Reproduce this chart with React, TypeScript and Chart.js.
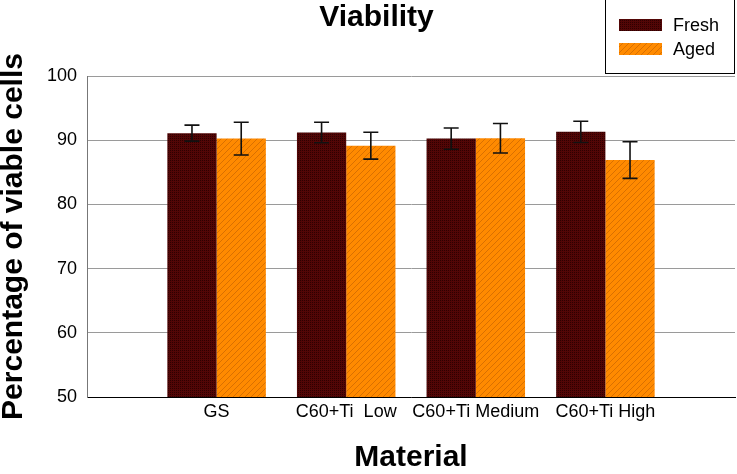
import React, { useEffect, useRef } from "react";
import { Chart, registerables } from "chart.js";

Chart.register(...registerables);

const categories = ["GS", "C60+Ti  Low", "C60+Ti Medium", "C60+Ti High"];
const seriesNames = ["Fresh", "Aged"];
const freshValues = [91.1, 91.2, 90.25, 91.3];
const freshErrors = [1.25, 1.6, 1.65, 1.65];
const agedValues = [90.25, 89.15, 90.3, 86.9];
const agedErrors = [2.55, 2.1, 2.3, 2.85];
const yTicks = [50, 60, 70, 80, 90, 100];

const FONT = "'Liberation Sans', Arial, Helvetica, sans-serif";

function makeFreshPattern(): CanvasPattern | string {
  const c = document.createElement("canvas");
  c.width = 4;
  c.height = 4;
  const ctx = c.getContext("2d");
  if (!ctx) return "#4a0404";
  ctx.fillStyle = "#520606";
  ctx.fillRect(0, 0, 4, 4);
  ctx.fillStyle = "#2e0000";
  ctx.fillRect(0, 0, 1, 1);
  ctx.fillRect(2, 2, 1, 1);
  ctx.fillRect(2, 0, 1, 1);
  ctx.fillRect(0, 2, 1, 1);
  return ctx.createPattern(c, "repeat") || "#4a0404";
}

function makeAgedPattern(): CanvasPattern | string {
  const c = document.createElement("canvas");
  c.width = 6;
  c.height = 6;
  const ctx = c.getContext("2d");
  if (!ctx) return "#ff8a00";
  ctx.fillStyle = "#ff8a00";
  ctx.fillRect(0, 0, 6, 6);
  ctx.strokeStyle = "#d97000";
  ctx.lineWidth = 1;
  ctx.beginPath();
  ctx.moveTo(-1, 7);
  ctx.lineTo(7, -1);
  ctx.moveTo(-1, 1);
  ctx.lineTo(1, -1);
  ctx.moveTo(5, 7);
  ctx.lineTo(7, 5);
  ctx.stroke();
  return ctx.createPattern(c, "repeat") || "#ff8a00";
}

const errorBarPlugin = {
  id: "errorBars",
  afterDatasetsDraw(chart: any) {
    const ctx = chart.ctx;
    const yScale = chart.scales.y;
    ctx.save();
    ctx.strokeStyle = "#111";
    ctx.lineWidth = 1.6;
    chart.data.datasets.forEach((ds: any, di: number) => {
      const meta = chart.getDatasetMeta(di);
      const errs: number[] = ds.errors || [];
      meta.data.forEach((bar: any, i: number) => {
        const v = ds.data[i].y;
        const e = errs[i];
        if (e == null) return;
        const x = bar.x;
        const yTop = yScale.getPixelForValue(v + e);
        const yBot = yScale.getPixelForValue(v - e);
        const hw = 7.5;
        ctx.beginPath();
        ctx.moveTo(x, yTop);
        ctx.lineTo(x, yBot);
        ctx.moveTo(x - hw, yTop);
        ctx.lineTo(x + hw, yTop);
        ctx.moveTo(x - hw, yBot);
        ctx.lineTo(x + hw, yBot);
        ctx.stroke();
      });
    });
    ctx.restore();
  },
};

const boxLegendPlugin = {
  id: "boxLegend",
  afterDraw(chart: any) {
    const ctx = chart.ctx;
    const area = chart.chartArea;
    const boxRight = area.right;
    const boxLeft = boxRight - 130;
    const boxTop = -1;
    const boxBottom = area.top - 3;
    ctx.save();
    ctx.fillStyle = "#fff";
    ctx.fillRect(boxLeft, boxTop, boxRight - boxLeft, boxBottom - boxTop);
    ctx.strokeStyle = "#000";
    ctx.lineWidth = 1;
    ctx.strokeRect(boxLeft + 0.5, boxTop + 0.5, boxRight - boxLeft - 1, boxBottom - boxTop);
    ctx.font = `18px ${FONT}`;
    ctx.textBaseline = "middle";
    ctx.textAlign = "left";
    chart.data.datasets.forEach((ds: any, i: number) => {
      const cy = 25 + i * 24;
      ctx.fillStyle = ds.backgroundColor;
      ctx.fillRect(boxLeft + 14, cy - 6, 43, 12);
      ctx.fillStyle = "#000";
      ctx.fillText(ds.label, boxLeft + 68, cy + 1);
    });
    ctx.restore();
  },
};

export default function App() {
  const canvasRef = useRef<HTMLCanvasElement | null>(null);

  useEffect(() => {
    if (!canvasRef.current) return;
    const freshPattern = makeFreshPattern();
    const agedPattern = makeAgedPattern();
    const chart = new Chart(canvasRef.current, {
      type: "bar",
      data: {
        datasets: [
          {
            label: seriesNames[0],
            data: freshValues.map((v, i) => ({ x: i + 1, y: v })),
            errors: freshErrors,
            backgroundColor: freshPattern as any,
            borderWidth: 0,
            categoryPercentage: 0.76,
            barPercentage: 1,
          } as any,
          {
            label: seriesNames[1],
            data: agedValues.map((v, i) => ({ x: i + 1, y: v })),
            errors: agedErrors,
            backgroundColor: agedPattern as any,
            borderWidth: 0,
            categoryPercentage: 0.76,
            barPercentage: 1,
          } as any,
        ],
      },
      options: {
        animation: false,
        responsive: false,
        maintainAspectRatio: false,
        layout: { padding: { left: 18, right: 2, top: 0, bottom: 0 } },
        plugins: {
          legend: { display: false },
          tooltip: { enabled: false },
          title: {
            display: true,
            text: "Viability",
            color: "#000",
            font: { family: FONT, size: 30, weight: "bold", lineHeight: 1 },
            padding: { top: 3, bottom: 43 },
          },
        },
        scales: {
          x: {
            type: "linear",
            offset: false,
            min: 0,
            max: 5,
            afterBuildTicks: (scale: any) => {
              scale.ticks = categories.map((_, i) => ({ value: i + 1 }));
            },
            afterFit: (scale: any) => {
              scale.height = 77;
            },
            ticks: {
              autoSkip: false,
              maxRotation: 0,
              padding: 4,
              color: "#000",
              font: { family: FONT, size: 18 },
              callback: (v: any) => categories[Number(v) - 1] ?? "",
            },
            grid: { display: false, drawTicks: false, offset: false },
            border: { display: true, color: "#000", width: 1 },
            title: {
              display: true,
              text: "Material",
              color: "#000",
              font: { family: FONT, size: 30, weight: "bold", lineHeight: 1 },
              padding: { top: 0, bottom: 1 },
            },
          },
          y: {
            min: 50,
            max: 100,
            afterBuildTicks: (scale: any) => {
              scale.ticks = yTicks.map((v) => ({ value: v }));
            },
            afterFit: (scale: any) => {
              scale.width = 69;
            },
            ticks: {
              padding: 10,
              color: "#000",
              font: { family: FONT, size: 18 },
            },
            grid: { color: "#9a9a9a", lineWidth: 1, drawTicks: false },
            border: { display: true, color: "#777", width: 1 },
            title: {
              display: true,
              text: "Percentage of viable cells",
              color: "#000",
              font: { family: FONT, size: 30, weight: "bold", lineHeight: 1 },
              padding: { top: -19, bottom: 0 },
            },
          },
        },
      } as any,
      plugins: [errorBarPlugin, boxLegendPlugin],
    });
    return () => chart.destroy();
  }, []);

  return (
    <div style={{ position: "absolute", left: 0, top: 0, width: 737, height: 474, background: "#fff" }}>
      <canvas ref={canvasRef} width={737} height={474} style={{ display: "block" }} />
    </div>
  );
}
